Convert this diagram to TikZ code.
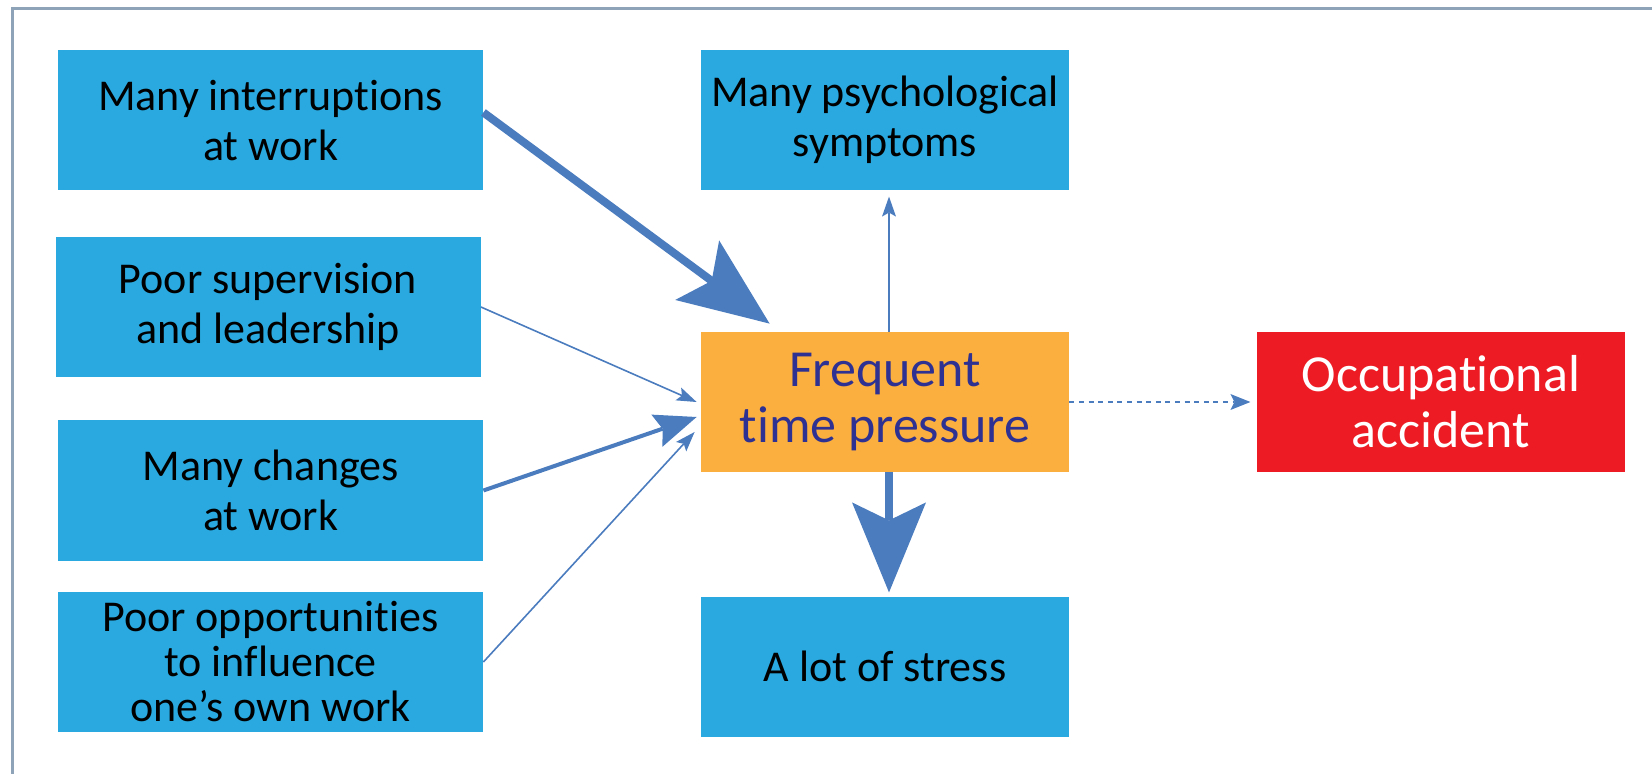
\documentclass[tikz,border=0pt]{standalone}
\usepackage{fontspec}
\setmainfont{Carlito}[Ligatures=NoCommon]
\usepackage{xcolor}
\usetikzlibrary{positioning}
\usetikzlibrary{arrows.meta}

\definecolor{boxblue}{HTML}{29A9E0}
\definecolor{pressureorange}{HTML}{FBAF3F}
\definecolor{accidentred}{HTML}{ED1C24}
\definecolor{arrowblue}{HTML}{4A7CBE}
\definecolor{framegray}{HTML}{8FA3B8}
\definecolor{pressuretext}{HTML}{2E3192}

\tikzset{
  causebox/.style={rectangle, fill=boxblue, text=black, minimum width=212.5pt, minimum height=70pt,
    inner sep=0pt, align=center, font=\fontsize{22}{25}\selectfont},
  effectbox/.style={causebox, minimum width=184pt},
  pressurebox/.style={effectbox, fill=pressureorange, text=pressuretext, font=\fontsize{26}{28}\selectfont},
  accidentbox/.style={pressurebox, fill=accidentred, text=white},
  stronglink/.style={draw=arrowblue, line width=4pt,
    -{Stealth[length=45pt, width=37pt, inset=9pt, line width=0pt]}},
  mediumlink/.style={draw=arrowblue, line width=2pt,
    -{Stealth[length=21pt, width=17pt, inset=3pt, line width=0pt]}},
  weaklink/.style={draw=arrowblue, line width=0.8pt,
    -{Stealth[length=10pt, width=7pt, inset=2pt, line width=0pt]}},
  possiblelink/.style={draw=arrowblue, line width=1pt, dash pattern=on 2.5pt off 2.3pt,
    -{Stealth[length=10pt, width=8pt, inset=2pt, line width=0pt]}}
}

\begin{document}
\begin{tikzpicture}[x=0.5pt, y=-0.5pt, node distance=70pt]
    \useasboundingbox (0,0) rectangle (1652,774);
    \draw[framegray, line width=1.5pt] (12,774) -- (12,9) -- (1652,9);

    \node[causebox] (interruptions) at (270.5,120.5) {Many interruptions\\at work};
    \node[causebox] (poor_supervision) at (268,307) {Poor supervision\\and leadership};
    \node[causebox] (many_changes) at (270.5,490.5) {Many changes\\at work};
    \node[causebox, font=\fontsize{22}{22.5}\selectfont] (poor_opportunities) at (270.5,662) {Poor opportunities\\to influence\\one’s own work};

    \node[pressurebox] (time_pressure) at (885,402) {Frequent\\time pressure};
    \node[effectbox] (psych_symptoms) [above=70.5pt of time_pressure] {Many psychological\\symptoms};
    \node[effectbox] (stress) [below=62pt of time_pressure] {A lot of stress};
    \node[accidentbox] (accident) [right=93.5pt of time_pressure] {Occupational\\accident};

    \draw[stronglink] ([shift={(0,-8)}]interruptions.east) -- ([shift={(69,-8)}]time_pressure.north west);
    \draw[weaklink] (poor_supervision.east) -- ([shift={(-4,0)}]time_pressure.west);
    \draw[mediumlink] (many_changes.east) -- ([shift={(-4,15)}]time_pressure.west);
    \draw[weaklink] (poor_opportunities.east) -- ([shift={(-6,30)}]time_pressure.west);
    \draw[weaklink] ([shift={(4,0)}]time_pressure.north) -- ([shift={(4,6)}]psych_symptoms.south);
    \draw[stronglink] ([shift={(4,0)}]time_pressure.south) -- ([shift={(4,-4)}]stress.north);
    \draw[possiblelink] (time_pressure.east) -- ([shift={(-6,0)}]accident.west);
\end{tikzpicture}
\end{document}
